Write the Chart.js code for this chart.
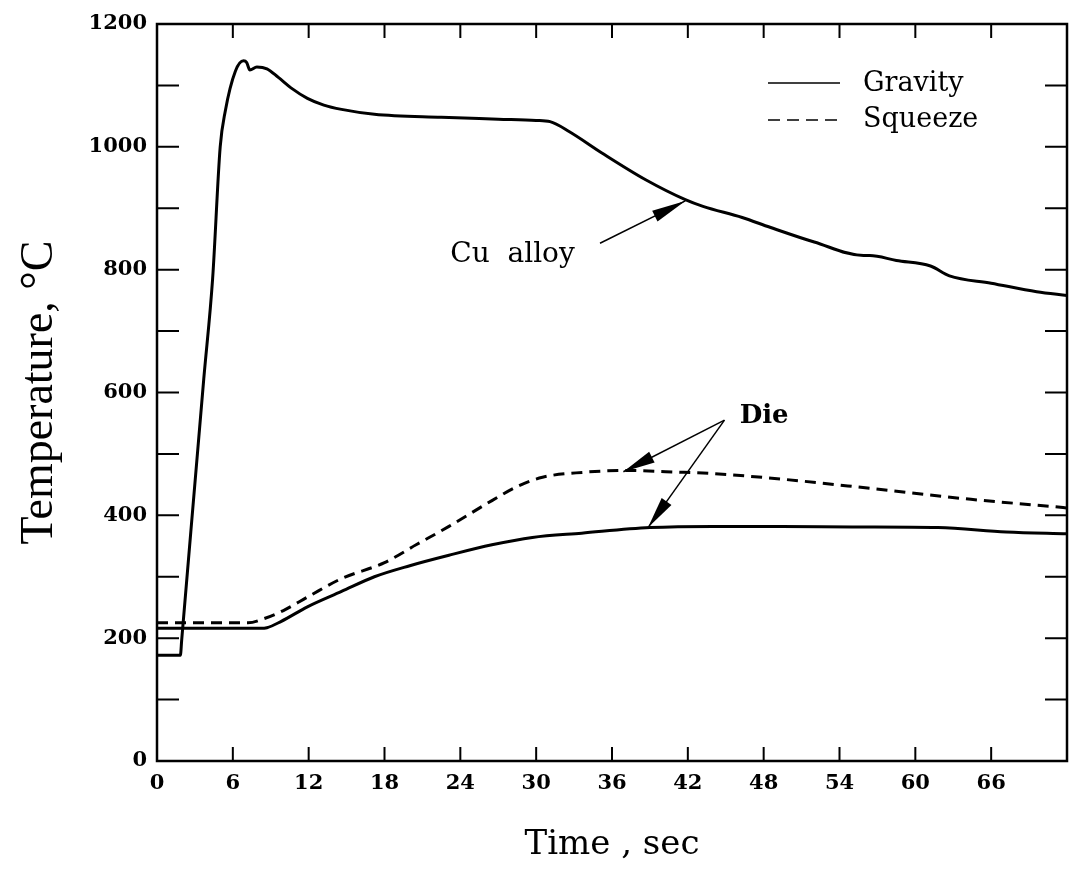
<!DOCTYPE html>
<html>
<head>
<meta charset="utf-8">
<script src="https://cdn.jsdelivr.net/npm/chart.js@4.4.1/dist/chart.umd.min.js"></script>
<style>
  html, body { margin: 0; padding: 0; background: #fff; }
</style>
</head>
<body>
<canvas id="grafico" width="1077" height="869"></canvas>
<script>
// Cu alloy, gravity casting
const cuTime    = [0, 1.85, 1.95, 3.7, 4.4, 5.0, 5.4, 6.2, 6.85, 7.1, 7.35, 7.9, 8.7, 9.6, 10.6, 11.9, 13.2, 14.6, 17.2, 22.5, 27, 30, 31.1, 32.6, 35.2, 38.7, 41.8, 43.2, 46.3, 48.5, 52, 55.9, 56.4, 58.5, 61.2, 62.7, 66, 69.6, 72];
const cuGravity = [172, 172, 196, 622, 785, 1000, 1058, 1123, 1140, 1137, 1125, 1130, 1127, 1113, 1096, 1079, 1068, 1061, 1053, 1048, 1045, 1043, 1041, 1025, 990, 946, 914, 903, 885, 869, 845, 823, 823, 815, 806, 790, 778, 764, 758];

// die temperature
const dieGravityTime = [0, 8.2, 8.7, 9.8, 11.9, 14.6, 17.2, 20, 23.1, 26.5, 29.7, 33.6, 39, 44, 49.4, 55, 61.8, 67.2, 72];
const dieGravity     = [216, 216, 217, 227, 251, 276, 300, 318, 335, 352, 364, 371, 380, 382, 382, 381, 380, 373, 370];

const dieSqueezeTime = [0, 7.2, 8.5, 10, 12, 14.6, 18, 20.5, 23.1, 26.5, 28.5, 30.5, 33.7, 37.1, 41.7, 43.2, 49.4, 56.4, 64.4, 71, 72];
const dieSqueeze     = [225, 225, 232, 245, 268, 297, 323, 352, 382, 424, 447, 462, 470, 473, 470, 469, 459, 444, 426, 414, 412];

const xTickStep = 6;
const yTickStep = 100;

// annotation anchors, in data units (time, temperature)
const cuLabel   = { t: 23.2, T: 812, text: 'Cu  alloy' };
const cuArrow   = { from: [35.05, 843], to: [41.8, 912] };
const dieLabel  = { t: 46.1, T: 550, text: 'Die' };
const dieApex   = [44.9, 555];
const dieTips   = [[36.9, 471], [38.85, 380]];

function pts(xs, ys) {
  return xs.map((v, i) => ({ x: v, y: ys[i] }));
}

function arrow(ctx, x1, y1, x2, y2, len, w) {
  const ang = Math.atan2(y2 - y1, x2 - x1);
  ctx.beginPath();
  ctx.moveTo(x1, y1);
  ctx.lineTo(x2, y2);
  ctx.stroke();
  ctx.beginPath();
  ctx.moveTo(x2, y2);
  ctx.lineTo(x2 - len * Math.cos(ang) + w * Math.sin(ang), y2 - len * Math.sin(ang) - w * Math.cos(ang));
  ctx.lineTo(x2 - len * Math.cos(ang) - w * Math.sin(ang), y2 - len * Math.sin(ang) + w * Math.cos(ang));
  ctx.closePath();
  ctx.fill();
}

const moldura = {
  id: 'moldura',
  afterDraw(chart) {
    const { ctx, chartArea: a, scales: { x, y } } = chart;
    ctx.save();
    ctx.strokeStyle = '#000';
    ctx.fillStyle = '#000';

    // frame
    ctx.lineWidth = 2.5;
    ctx.strokeRect(a.left, a.top, a.right - a.left, a.bottom - a.top);

    // inward ticks, all four sides
    ctx.lineWidth = 2;
    x.ticks.forEach(t => {
      const px = x.getPixelForValue(t.value);
      ctx.beginPath();
      ctx.moveTo(px, a.bottom); ctx.lineTo(px, a.bottom - 14);
      ctx.moveTo(px, a.top); ctx.lineTo(px, a.top + 14);
      ctx.stroke();
    });
    y.ticks.forEach(t => {
      const py = y.getPixelForValue(t.value);
      ctx.beginPath();
      ctx.moveTo(a.left, py); ctx.lineTo(a.left + 22, py);
      ctx.moveTo(a.right, py); ctx.lineTo(a.right - 22, py);
      ctx.stroke();
    });

    // legend
    ctx.font = '27px "DejaVu Serif"';
    ctx.textBaseline = 'middle';
    ctx.textAlign = 'left';
    ctx.lineWidth = 1.6;
    ctx.beginPath();
    ctx.moveTo(a.right - 299, a.top + 59); ctx.lineTo(a.right - 227, a.top + 59);
    ctx.stroke();
    ctx.setLineDash([12, 7]);
    ctx.beginPath();
    ctx.moveTo(a.right - 299, a.top + 96); ctx.lineTo(a.right - 227, a.top + 96);
    ctx.stroke();
    ctx.setLineDash([]);
    ctx.fillText('Gravity', a.right - 204, a.top + 60);
    ctx.fillText('Squeeze', a.right - 204, a.top + 96);

    // Cu alloy label + arrow
    ctx.textBaseline = 'alphabetic';
    ctx.font = '28px "DejaVu Serif"';
    ctx.fillText(cuLabel.text, x.getPixelForValue(cuLabel.t), y.getPixelForValue(cuLabel.T));
    ctx.lineWidth = 1.5;
    arrow(ctx,
      x.getPixelForValue(cuArrow.from[0]), y.getPixelForValue(cuArrow.from[1]),
      x.getPixelForValue(cuArrow.to[0]), y.getPixelForValue(cuArrow.to[1]), 34, 6);

    // Die label + arrows
    ctx.font = 'bold 26px "DejaVu Serif"';
    ctx.fillText(dieLabel.text, x.getPixelForValue(dieLabel.t), y.getPixelForValue(dieLabel.T));
    dieTips.forEach(tp => {
      arrow(ctx,
        x.getPixelForValue(dieApex[0]), y.getPixelForValue(dieApex[1]),
        x.getPixelForValue(tp[0]), y.getPixelForValue(tp[1]), 32, 6);
    });
    ctx.restore();
  }
};

const ctx1 = document.getElementById('grafico');

new Chart(ctx1, {
  type: 'line',
  data: {
    datasets: [{
      label: 'Cu alloy (Gravity)',
      data: pts(cuTime, cuGravity),
      borderColor: '#000',
      borderWidth: 3,
      pointRadius: 0,
      cubicInterpolationMode: 'monotone'
    }, {
      label: 'Die (Gravity)',
      data: pts(dieGravityTime, dieGravity),
      borderColor: '#000',
      borderWidth: 3,
      pointRadius: 0,
      cubicInterpolationMode: 'monotone'
    }, {
      label: 'Die (Squeeze)',
      data: pts(dieSqueezeTime, dieSqueeze),
      borderColor: '#000',
      borderWidth: 3,
      borderDash: [11, 7],
      pointRadius: 0,
      cubicInterpolationMode: 'monotone'
    }]
  },
  options: {
    responsive: false,
    animation: false,
    layout: { padding: { top: 24, right: 10, left: 0, bottom: 0 } },
    scales: {
      x: {
        type: 'linear',
        min: 0,
        max: 72,
        afterFit: s => { s.height = 108; },
        grid: { display: false, drawTicks: false },
        border: { display: false },
        ticks: {
          stepSize: xTickStep,
          padding: 10,
          color: '#000',
          font: { family: 'DejaVu Serif', size: 21, weight: 'bold' },
          maxRotation: 0,
          callback: v => (v >= 72 ? '' : v)
        },
        title: {
          display: true,
          text: 'Time , sec',
          color: '#000',
          font: { family: 'DejaVu Serif', size: 34 },
          padding: { top: 0, bottom: 3 }
        }
      },
      y: {
        min: 0,
        max: 1200,
        afterFit: s => { s.width = 157; },
        grid: { display: false, drawTicks: false },
        border: { display: false },
        ticks: {
          stepSize: yTickStep,
          padding: 10,
          color: '#000',
          font: { family: 'DejaVu Serif', size: 21, weight: 'bold' },
          callback: v => (v % 200 === 0 ? v : '')
        },
        title: {
          display: true,
          text: 'Temperature, °C',
          color: '#000',
          font: { family: 'Liberation Serif', size: 46 },
          padding: { top: 12, bottom: 0 }
        }
      }
    },
    plugins: {
      legend: { display: false },
      tooltip: { enabled: false }
    }
  },
  plugins: [moldura]
});
</script>
</body>
</html>
